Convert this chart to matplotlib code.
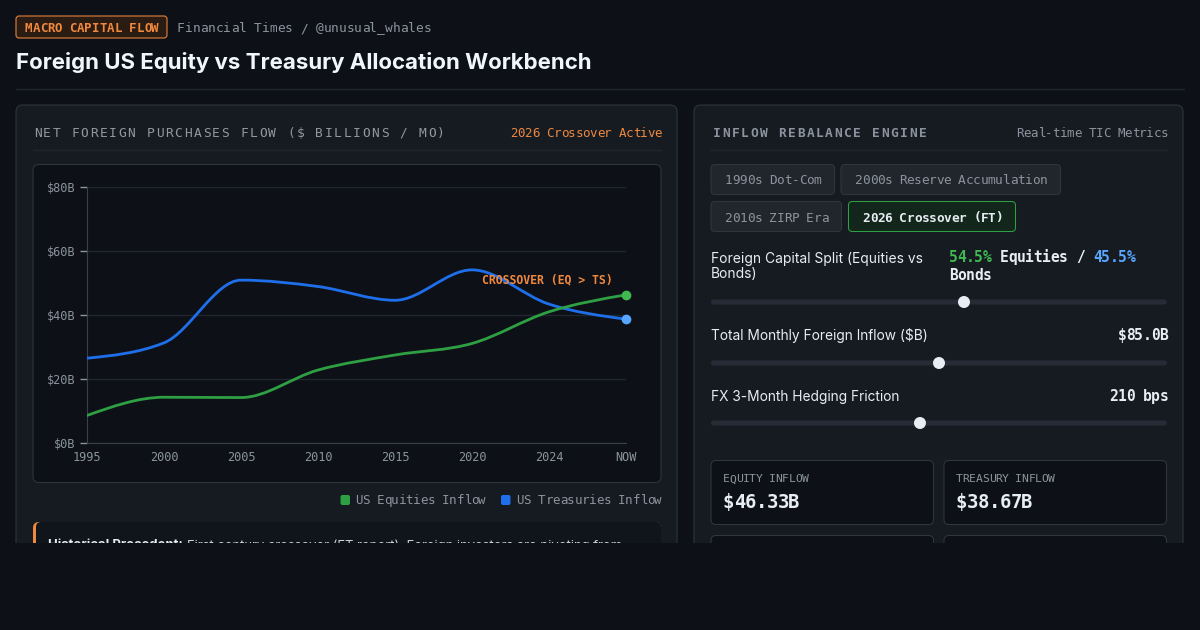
import numpy as np
import matplotlib
matplotlib.use('Agg')
import matplotlib.pyplot as plt
from matplotlib.patches import FancyBboxPatch, Circle, Rectangle, PathPatch
from matplotlib.path import Path

# chart data
years = ['1995', '2000', '2005', '2010', '2015', '2020', '2024', 'NOW']
equities = [8.6, 14.3, 14.2, 22.8, 27.5, 31.1, 41.0, 46.3]
treasuries = [26.5, 31.3, 50.9, 48.9, 44.6, 54.1, 43.4, 38.7]
y_ticks = [0, 20, 40, 60, 80]
y_tick_labels = ['$0B', '$20B', '$40B', '$60B', '$80B']

# control panel values
presets = ['1990s Dot-Com', '2000s Reserve Accumulation', '2010s ZIRP Era', '2026 Crossover (FT)']
active_preset = '2026 Crossover (FT)'
equity_share = 54.5
bond_share = 45.5
total_inflow = 85.0
hedge_bps = 210
slider_ranges = [(10, 90), (20, 150), (50, 400)]
equity_inflow = 46.33
treasury_inflow = 38.67

BG = '#0d1117'
PANEL = '#161b22'
BORDER = '#30363d'
GRAY = '#8b949e'
WHITE = '#e6edf3'
ORANGE = '#f0883e'
GREEN = '#2ea043'
GREEN_L = '#3fb950'
BLUE = '#1f6feb'
BLUE_L = '#58a6ff'
MONO = 'DejaVu Sans Mono'
SANS = ['Inter', 'DejaVu Sans']

fig = plt.figure(figsize=(12, 6.3), dpi=100, facecolor=BG)
bg = fig.add_axes([0, 0, 1, 1])
bg.set_xlim(0, 1200)
bg.set_ylim(630, 0)
bg.axis('off')


def rbox(x, y, w, h, fc, ec='none', r=6, lw=0.75, z=1):
    bg.add_patch(FancyBboxPatch((x, y), w, h, boxstyle=f'round,pad=0,rounding_size={r}',
                                fc=fc, ec=ec, lw=lw, zorder=z))


def mono(x, base, s, size, adv=None, color=GRAY, weight='normal', ha='left', z=5):
    # monospace text placed char by char so letter spacing can match
    if adv is None:
        adv = size / 0.75 * 0.602
    w = len(s) * adv
    x0 = {'left': x, 'right': x - w, 'center': x - w / 2}[ha]
    for i, ch in enumerate(s):
        if ch.strip():
            bg.text(x0 + (i + 0.5) * adv, base, ch, fontsize=size, family=MONO, color=color,
                    weight=weight, ha='center', va='baseline', zorder=z)
    return x0 + w


def sans(x, base, s, size, color=WHITE, weight='normal', ha='left', z=5):
    return bg.text(x, base, s, fontsize=size, family=SANS, color=color, weight=weight,
                   ha=ha, va='baseline', zorder=z)


# header
rbox(16, 16, 151, 22, '#2a1c12', ORANGE, r=3)
mono(25, 32, 'MACRO CAPITAL FLOW', 9, adv=7.44, color=ORANGE, weight='bold')
mono(177, 32, 'Financial Times / @unusual_whales', 9.3, adv=7.7, color=GRAY)
sans(16, 69, 'Foreign US Equity vs Treasury Allocation Workbench', 16.0, color='#f0f6fc', weight='bold')
bg.plot([16, 1184], [88.5, 88.5], color='#21262d', lw=1)

# left panel
rbox(16, 105, 661, 600, PANEL, BORDER, r=7)
mono(33, 136.7, 'NET FOREIGN PURCHASES FLOW ($ BILLIONS / MO)', 9.3, adv=9.38, color='#9198a1')
mono(662, 136.7, '2026 Crossover Active', 9, color=ORANGE, ha='right')
bg.plot([33, 661], [149.5, 149.5], color='#21262d', lw=1)
rbox(33, 164.5, 628, 318, BG, BORDER, r=6)

# legend
rbox(340.5, 495, 9.5, 10, GREEN, r=2)
mono(355, 504, 'US Equities Inflow', 9, adv=7.25, color=GRAY)
rbox(501, 495, 9.5, 10, BLUE, r=2)
mono(516.5, 504, 'US Treasuries Inflow', 9, adv=7.25, color=GRAY)

# note box
rbox(33, 522, 628, 80, ORANGE, r=6)
rbox(36, 522, 625, 80, '#10151c', r=5)
t1 = sans(48, 548.5, 'Historical Precedent:', 9.4, color=WHITE, weight='bold')
renderer = fig.canvas.get_renderer()
bx1 = bg.transData.inverted().transform((t1.get_window_extent(renderer).x1, 0))[0]
sans(bx1 + 4, 548.5, 'First century crossover (FT report). Foreign investors are pivoting from', 9.4, color='#c9d1d9')

# right panel
rbox(694, 105, 489, 600, PANEL, BORDER, r=7)
mono(712, 136.7, 'INFLOW REBALANCE ENGINE', 9.3, adv=9.36, color=GRAY, weight='bold')
mono(1168, 136.7, 'Real-time TIC Metrics', 9, color=GRAY, ha='right')
bg.plot([711, 1167], [149.5, 149.5], color='#21262d', lw=1)

btn_boxes = [(711, 164.5, 123.5), (841, 164.5, 219.5), (711, 201.5, 130.5), (848.5, 201.5, 167)]
for label, (bx, by, bw) in zip(presets, btn_boxes):
    if label == active_preset:
        rbox(bx, by, bw, 30, '#12261b', GREEN, r=4)
        mono(bx + 14, by + 20, label, 9.2, color=WHITE, weight='bold')
    else:
        rbox(bx, by, bw, 30, '#21262d', BORDER, r=4)
        mono(bx + 14, by + 20, label, 9.2, color=GRAY)

# sliders
sans(711, 262.5, 'Foreign Capital Split (Equities vs', 9.95, color=WHITE)
sans(711, 278.5, 'Bonds)', 9.95, color=WHITE)
xx = mono(949, 262, f'{equity_share:.1f}%', 10.5, adv=8.47, color=GREEN_L, weight='bold')
xx = mono(xx, 262, ' Equities / ', 10.5, adv=8.47, color=WHITE, weight='bold')
mono(xx, 262, f'{bond_share:.1f}%', 10.5, adv=8.47, color=BLUE_L, weight='bold')
mono(949, 280, 'Bonds', 10.5, adv=8.47, color=WHITE, weight='bold')

sans(711, 340.3, 'Total Monthly Foreign Inflow ($B)', 9.9, color=WHITE)
mono(1168, 340.3, f'${total_inflow:.1f}B', 10.5, adv=8.4, color=WHITE, weight='bold', ha='right')
sans(711, 400.6, 'FX 3-Month Hedging Friction', 9.9, color=WHITE)
mono(1168, 400.6, f'{hedge_bps} bps', 10.5, adv=8.4, color=WHITE, weight='bold', ha='right')

slider_vals = [equity_share, total_inflow, hedge_bps]
slider_y = [302, 363, 423]
for val, (lo, hi), sy in zip(slider_vals, slider_ranges, slider_y):
    rbox(711, sy - 2.5, 456, 5, '#262c36', r=2.5, z=2)
    tx = 717 + (val - lo) / (hi - lo) * 444
    bg.add_patch(Circle((tx, sy), 6, fc=WHITE, ec='none', zorder=3))

# stat cards
cards = [('EQUITY INFLOW', f'${equity_inflow:.2f}B', 711), ('TREASURY INFLOW', f'${treasury_inflow:.2f}B', 944)]
for lab, val, cx in cards:
    rbox(cx, 460.5, 222.5, 64, BG, BORDER, r=5)
    mono(cx + 12, 482.3, lab, 8.2, color=GRAY)
    mono(cx + 12, 508.3, val, 13.6, color=WHITE, weight='bold')
    rbox(cx, 535.5, 222.5, 64, BG, BORDER, r=5)

# the screenshot is cut off at the bottom
bg.add_patch(Rectangle((0, 542.5), 1200, 100, fc=BG, ec='none', zorder=100))

# chart
ax = fig.add_axes([87 / 1200, (630 - 443) / 630, 539 / 1200, 256 / 630])
ax.set_facecolor('none')
ax.set_xlim(0, 7)
ax.set_ylim(0, 80)
for s in ['top', 'right']:
    ax.spines[s].set_visible(False)
ax.spines['left'].set_color('#3a4048')
ax.spines['bottom'].set_color('#3a4048')
ax.grid(axis='y', color='#21262d', lw=1)
ax.set_axisbelow(True)
ax.set_yticks(y_ticks)
ax.set_yticklabels(y_tick_labels, family=MONO, fontsize=8.6, color=GRAY)
ax.set_xticks(range(len(years)))
ax.set_xticklabels(years, family=MONO, fontsize=8.6, color=GRAY)
ax.tick_params(axis='y', length=5.2, width=1, color=GRAY, pad=3)
ax.tick_params(axis='x', length=0, pad=5.5)


def monotone_path(xs, ys):
    # same shape as d3.curveMonotoneX
    n = len(xs)
    t = [0.0] * n
    for i in range(1, n - 1):
        h0 = xs[i] - xs[i - 1]
        h1 = xs[i + 1] - xs[i]
        s0 = (ys[i] - ys[i - 1]) / h0
        s1 = (ys[i + 1] - ys[i]) / h1
        p = (s0 * h1 + s1 * h0) / (h0 + h1)
        t[i] = (np.sign(s0) + np.sign(s1)) * min(abs(s0), abs(s1), 0.5 * abs(p))
    t[0] = (3 * (ys[1] - ys[0]) / (xs[1] - xs[0]) - t[1]) / 2
    t[-1] = (3 * (ys[-1] - ys[-2]) / (xs[-1] - xs[-2]) - t[-2]) / 2
    verts = [(xs[0], ys[0])]
    codes = [Path.MOVETO]
    for i in range(n - 1):
        d = (xs[i + 1] - xs[i]) / 3
        verts += [(xs[i] + d, ys[i] + d * t[i]), (xs[i + 1] - d, ys[i + 1] - d * t[i + 1]), (xs[i + 1], ys[i + 1])]
        codes += [Path.CURVE4] * 3
    return Path(verts, codes)


xs = list(range(len(years)))
ax.add_patch(PathPatch(monotone_path(xs, treasuries), fill=False, ec=BLUE, lw=2.0,
                       capstyle='round', joinstyle='round', zorder=3))
ax.add_patch(PathPatch(monotone_path(xs, equities), fill=False, ec=GREEN, lw=2.0,
                       capstyle='round', joinstyle='round', zorder=3))
ax.plot(xs[-1], equities[-1], 'o', ms=7, color=GREEN_L, mec='none', clip_on=False, zorder=4)
ax.plot(xs[-1], treasuries[-1], 'o', ms=7, color=BLUE_L, mec='none', clip_on=False, zorder=4)
ax.annotate('CROSSOVER (EQ > TS)', xy=(xs[-1], equities[-1]), xytext=(-13, 11),
            textcoords='offset pixels', ha='right', va='baseline', family=MONO,
            fontsize=8.3, weight='bold', color=ORANGE, zorder=5)

fig.savefig('out.png', dpi=100, facecolor=BG)
